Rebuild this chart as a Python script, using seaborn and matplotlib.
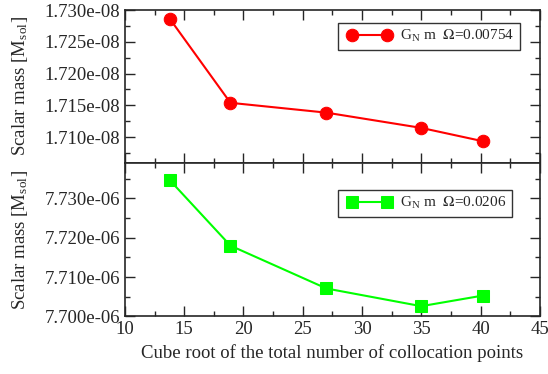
import matplotlib
matplotlib.use("Agg")
import matplotlib.pyplot as plt
from matplotlib.lines import Line2D
from matplotlib.legend_handler import HandlerLine2D
from matplotlib.ticker import MultipleLocator, FormatStrFormatter
import seaborn as sns
import pandas as pd

# data
n_cbrt = [13.8, 18.9, 27.0, 35.0, 40.2]
mass_top = [1.72859e-08, 1.71540e-08, 1.71385e-08, 1.71145e-08, 1.70935e-08]
mass_bot = [7.7346e-06, 7.7180e-06, 7.7071e-06, 7.7026e-06, 7.7053e-06]
label_top = r"G$_\mathregular{N}$ m  $\Omega$=0.00754"
label_bot = r"G$_\mathregular{N}$ m  $\Omega$=0.0206"
yticks_top = [1.710e-08, 1.715e-08, 1.720e-08, 1.725e-08, 1.730e-08]
yticks_bot = [7.700e-06, 7.710e-06, 7.720e-06, 7.730e-06]

sns.set_style("ticks")
plt.rcParams['font.family'] = ['Liberation Serif', 'DejaVu Serif']
plt.rcParams['mathtext.fontset'] = 'stix'

fig = plt.figure(figsize=(5.48, 3.74), dpi=100)
ax1 = fig.add_axes([0.228, 0.565, 0.757, 0.408])
ax2 = fig.add_axes([0.228, 0.154, 0.757, 0.411])

df_top = pd.DataFrame({"x": n_cbrt, "y": mass_top})
df_bot = pd.DataFrame({"x": n_cbrt, "y": mass_bot})

sns.lineplot(data=df_top, x="x", y="y", ax=ax1, color="red", marker="o",
             markersize=9, markeredgecolor="red", linewidth=1.5, label=label_top)
sns.lineplot(data=df_bot, x="x", y="y", ax=ax2, color="#00ff00", marker="s",
             markersize=8, markeredgecolor="#00ff00", linewidth=1.5, label=label_bot)

legend_pos = {ax1: (0.513, 0.917), ax2: (0.513, 0.822)}
for ax in (ax1, ax2):
    ax.set_xlim(10, 45)
    ax.xaxis.set_major_locator(MultipleLocator(5))
    ax.xaxis.set_minor_locator(MultipleLocator(2.5))
    ax.tick_params(which="both", direction="in", top=True, right=True, labelsize=13.5)
    ax.tick_params(which="major", length=7, width=1)
    ax.tick_params(which="minor", length=3.5, width=1)
    for s in ax.spines.values():
        s.set_linewidth(1.2)
    ax.set_ylabel(r"Scalar mass [M$_\mathregular{sol}$]", fontsize=13.5)
    ax.yaxis.set_label_coords(-0.228, 0.5)
    leg = ax.legend(loc="upper left", bbox_to_anchor=legend_pos[ax], fontsize=11,
                    frameon=True, fancybox=False, handlelength=3.5, borderpad=0.35,
                    handletextpad=0.25, borderaxespad=0,
                    handler_map={Line2D: HandlerLine2D(marker_pad=0.6, numpoints=2)})
    leg.get_frame().set_edgecolor("black")
    leg.get_frame().set_linewidth(1)

ax1.set_yticks(yticks_top)
ax1.yaxis.set_minor_locator(MultipleLocator(0.0025e-08))
ax1.yaxis.set_major_formatter(FormatStrFormatter("%.3e"))
ax1.set_ylim(1.70597e-08, 1.730e-08)
ax1.set_xlabel("")
ax1.tick_params(axis="x", labelbottom=False)

ax2.set_yticks(yticks_bot)
ax2.yaxis.set_minor_locator(MultipleLocator(0.005e-06))
ax2.yaxis.set_major_formatter(FormatStrFormatter("%.3e"))
ax2.set_ylim(7.700e-06, 7.7391e-06)
ax2.set_xlabel("Cube root of the total number of collocation points", fontsize=13.5)

fig.savefig("out.png", dpi=100)
